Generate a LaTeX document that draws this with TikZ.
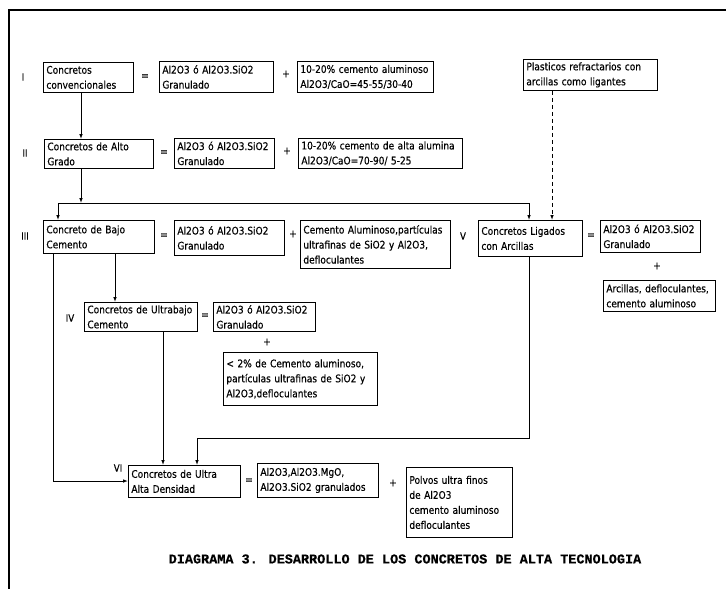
\documentclass[tikz,border=0pt]{standalone}
\usepackage{fontspec}
\setmainfont{DejaVu Sans}
\newfontfamily\bxfont[FakeStretch=0.86,FakeBold=0.3]{DejaVu Sans}
\newfontfamily\ttlfont[FakeBold=0.6]{Liberation Mono}
\usetikzlibrary{arrows.meta}
\begin{document}
\hyphenpenalty=10000
\exhyphenpenalty=10000
\begin{tikzpicture}[x=1pt,y=-1pt,
  bx/.style={draw, line width=0.8pt, anchor=north west, align=left,
    inner xsep=3pt, inner ysep=1.5pt,
    font=\bxfont\fontsize{10.5}{15}\selectfont},
  sym/.style={font=\bxfont\fontsize{11}{13}\selectfont, inner sep=0pt},
  lbl/.style={font=\bxfont\fontsize{10}{12}\selectfont, inner sep=0pt},
  cn/.style={line width=0.9pt},
  arr/.style={cn, -{Latex[length=5pt,width=3.6pt]}},
  dsh/.style={arr, dash pattern=on 4pt off 3pt}]
\useasboundingbox (0,0) rectangle (726,589);
\fill[white] (0,0) rectangle (726,589);
% frame
\coordinate (fBL) at (9,589);
\coordinate (fTL) at (9,10);
\coordinate (fTR) at (726,10);
\draw[line width=1.2pt] (fBL) -- (fTL) -- (fTR);

% row I
\node[lbl] (lI) at (23,77) {I};
\node[bx, minimum height=30pt, text width=84pt] (A1) at (43,62) {Concretos\\convencionales};
\node[sym] (e1) at (145,77) {=};
\node[bx, minimum height=31pt, text width=108pt] (A2) at (159,61) {Al2O3 ó Al2O3.SiO2\\Granulado};
\node[sym] (p1) at (286,74) {+};
\node[bx, minimum height=31pt, text width=130pt] (A3) at (297,61) {10-20\% cemento aluminoso\\Al2O3/CaO=45-55/30-40};
\node[bx, minimum height=31pt, text width=128pt] (P) at (523,59) {Plasticos refractarios con\\arcillas como ligantes};

% row II
\node[lbl] (lII) at (25,153) {II};
\node[bx, minimum height=29pt, text width=103pt] (B1) at (44,139) {Concretos de Alto\\Grado};
\node[sym] (e2) at (164,153) {=};
\node[bx, minimum height=30pt, text width=94pt] (B2) at (174,138) {Al2O3 ó Al2O3.SiO2\\Granulado};
\node[sym] (p2) at (287,151) {+};
\node[bx, minimum height=30pt, text width=158pt] (B3) at (298,138) {10-20\% cemento de alta alumina\\Al2O3/CaO=70-90/ 5-25};

% row III
\node[lbl] (lIII) at (25,236) {III};
\node[bx, minimum height=33pt, text width=105pt] (C1) at (43,220) {Concreto de Bajo\\Cemento};
\node[sym] (e3) at (164,236) {=};
\node[bx, minimum height=35pt, text width=104pt] (C2) at (174,220) {Al2O3 ó Al2O3.SiO2\\Granulado};
\node[sym] (p3) at (293,234) {+};
\node[bx, minimum height=48pt, text width=144pt] (C3) at (300,220) {Cemento Aluminoso,partículas\\ultrafinas de SiO2 y Al2O3,\\defloculantes};

% row V
\node[lbl] (lV) at (463,236) {V};
\node[bx, minimum height=36pt, text width=98pt] (V1) at (478,220) {Concretos Ligados\\con Arcillas};
\node[sym] (e5) at (591,236) {=};
\node[bx, minimum height=32pt, text width=94pt] (V2) at (600,220) {Al2O3 ó Al2O3.SiO2\\Granulado};
\node[sym] (p5) at (657,266) {+};
\node[bx, minimum height=31pt, text width=106pt] (V3) at (603,280) {Arcillas, defloculantes,\\cemento aluminoso};

% row IV
\node[lbl] (lIV) at (70,318) {IV};
\node[bx, minimum height=29pt, text width=107pt] (D1) at (84,302) {Concretos de Ultrabajo\\Cemento};
\node[sym] (e4) at (205,316) {=};
\node[bx, minimum height=29pt, text width=96pt] (D2) at (213,302) {Al2O3 ó Al2O3.SiO2\\Granulado};
\node[sym] (p4) at (267,342) {+};
\node[bx, minimum height=53pt, text width=148pt] (D3) at (223,352) {< 2\% de Cemento aluminoso,\\partículas ultrafinas de SiO2 y\\Al2O3,defloculantes};

% row VI
\node[lbl] (lVI) at (118,468) {VI};
\node[bx, minimum height=32pt, text width=106pt] (E1) at (128,465) {Concretos de Ultra\\Alta Densidad};
\node[sym] (e6) at (249,481) {=};
\node[bx, minimum height=34pt, text width=115pt] (E2) at (257,463) {Al2O3,Al2O3.MgO,\\Al2O3.SiO2 granulados};
\node[sym] (p6) at (393,483) {+};
\node[bx, minimum height=70pt, text width=100pt] (E3) at (406,467) {Polvos ultra finos\\de Al2O3\\cemento aluminoso\\defloculantes};

% title
\node[font=\ttlfont\bfseries\fontsize{13.5}{16}\selectfont, inner sep=0pt] (T) at (405,559) {DIAGRAMA 3. DESARROLLO DE LOS CONCRETOS DE ALTA TECNOLOGIA};

% connectors
\coordinate (jB) at (81,203);
\coordinate (jL) at (58,203);
\coordinate (jR) at (529,203);
\coordinate (dP) at (552,150);
\coordinate (cL) at (53,481);
\coordinate (cIV) at (115,280);
\coordinate (x163) at (163,400);
\coordinate (vA) at (529,438);
\coordinate (vB) at (197,438);

\draw[arr] (A1.south -| jB) -- (B1.north -| jB);
\draw[arr] (B1.south -| jB) -- (jB);
\draw[cn] (jL) -- (jR);
\draw[arr] (jL) -- (C1.north -| jL);
\draw[arr] (jR) -- (V1.north -| jR);
\draw[dsh] (P.south -| dP) -- (V1.north -| dP);
\draw[arr] (C1.south -| cL) -- (cL) -- (E1.west |- cL);
\draw[arr] (C1.south -| cIV) -- (D1.north -| cIV);
\draw[arr] (D1.south -| x163) -- (E1.north -| x163);
\draw[arr] (V1.south -| vA) -- (vA) -- (vB) -- (E1.north -| vB);
\end{tikzpicture}
\end{document}
